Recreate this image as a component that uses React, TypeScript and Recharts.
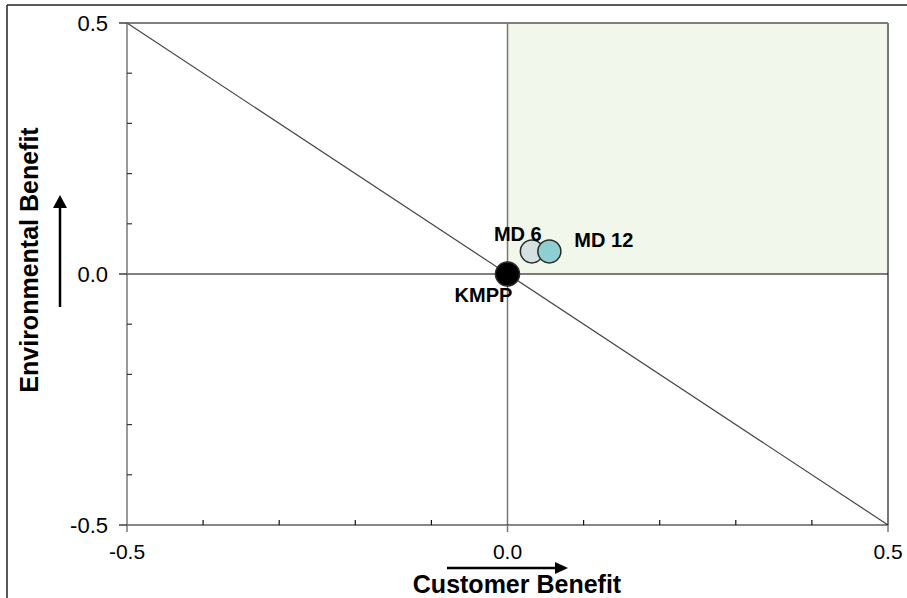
import { ScatterChart, Scatter, XAxis, YAxis, ReferenceArea, ReferenceLine } from 'recharts'

// one entry per bubble
const POINT_NAMES = ['KMPP', 'MD 6', 'MD 12']
const CUSTOMER_BENEFIT = [0, 0.032, 0.055]
const ENVIRONMENTAL_BENEFIT = [0, 0.045, 0.045]

const AXIS_TICKS = [-0.5, -0.4, -0.3, -0.2, -0.1, 0, 0.1, 0.2, 0.3, 0.4, 0.5]
const LABELLED_TICKS = [-0.5, 0, 0.5]
const DIAGONAL = [{ x: -0.5, y: 0.5 }, { x: 0.5, y: -0.5 }]

const POINT_STYLE: Record<string, { fill: string; r: number; dx: number; dy: number; anchor: 'start' | 'middle' | 'end' }> = {
  'KMPP': { fill: '#000000', r: 12, dx: -24, dy: 21, anchor: 'middle' },
  'MD 6': { fill: '#d3e2e1', r: 11.5, dx: -14, dy: -17, anchor: 'middle' },
  'MD 12': { fill: '#8ecfd1', r: 11.5, dx: 25, dy: -11, anchor: 'start' },
}

const FONT = 'Arial, "Liberation Sans", sans-serif'

const fmt = (v: number) => v.toFixed(1)
const isLabelled = (v: number) => LABELLED_TICKS.some((t) => Math.abs(t - v) < 1e-9)

function XTick({ x, y, payload }: any) {
  const major = isLabelled(payload.value)
  return (
    <g>
      {major ? (
        <line x1={x} x2={x} y1={y} y2={y + 7} stroke="#777" strokeWidth={1.5} />
      ) : (
        <line x1={x} x2={x} y1={y} y2={y - 5} stroke="#111" strokeWidth={1.2} />
      )}
      {major && (
        <text x={x} y={y + 26} textAnchor="middle" dominantBaseline="central" fontSize={21} fontFamily={FONT} fill="#000">
          {fmt(payload.value)}
        </text>
      )}
    </g>
  )
}

function YTick({ x, y, payload }: any) {
  const major = isLabelled(payload.value)
  return (
    <g>
      {major ? (
        <line x1={x - 8} x2={x} y1={y} y2={y} stroke="#111" strokeWidth={1.2} />
      ) : (
        <line x1={x} x2={x + 5} y1={y} y2={y} stroke="#333" strokeWidth={1.2} />
      )}
      {major && (
        <text x={x - 19} y={y} textAnchor="end" dominantBaseline="central" fontSize={22} fontFamily={FONT} fill="#000">
          {fmt(payload.value)}
        </text>
      )}
    </g>
  )
}

const renderPoint = (name: string) => (props: any) => {
  const s = POINT_STYLE[name]
  const { cx, cy } = props
  return (
    <g>
      <circle cx={cx} cy={cy} r={s.r} fill={s.fill} stroke="#2a2a2a" strokeWidth={1.5} />
      <text x={cx + s.dx} y={cy + s.dy} textAnchor={s.anchor} dominantBaseline="central" fontSize={20} fontWeight="bold" fontFamily={FONT} fill="#000">
        {name}
      </text>
    </g>
  )
}

export default function App() {
  return (
    <div style={{ position: 'absolute', left: 0, top: 0, width: 907, height: 598, background: '#fff' }}>
      <ScatterChart width={907} height={598} margin={{ top: 23, right: 19, bottom: 33, left: 67 }}>
        <ReferenceArea x1={0} x2={0.5} y1={0} y2={0.5} fill="#f1f7ea" fillOpacity={1} stroke="none" />
        <ReferenceLine y={0.5} stroke="#555" strokeWidth={1.5} />
        <ReferenceLine x={0.5} stroke="#777" strokeWidth={2} />
        <ReferenceLine x={0} stroke="#777" strokeWidth={1.5} />
        <ReferenceLine y={0} stroke="#000" strokeWidth={1.2} />
        <ReferenceLine segment={DIAGONAL} stroke="#444" strokeWidth={1.2} />
        <XAxis
          type="number"
          dataKey="x"
          domain={[-0.5, 0.5]}
          ticks={AXIS_TICKS}
          height={40}
          axisLine={{ stroke: '#111', strokeWidth: 1.2 }}
          tickLine={false}
          tickSize={0}
          tickMargin={0}
          tick={<XTick />}
          interval={0}
        />
        <YAxis
          type="number"
          dataKey="y"
          domain={[-0.5, 0.5]}
          ticks={AXIS_TICKS}
          width={60}
          axisLine={{ stroke: '#777', strokeWidth: 1.5 }}
          tickLine={false}
          tickSize={0}
          tickMargin={0}
          tick={<YTick />}
          interval={0}
        />
        {POINT_NAMES.map((name, i) => (
          <Scatter
            key={name}
            name={name}
            data={[{ x: CUSTOMER_BENEFIT[i], y: ENVIRONMENTAL_BENEFIT[i] }]}
            fill={POINT_STYLE[name].fill}
            shape={renderPoint(name)}
            isAnimationActive={false}
          />
        ))}
      </ScatterChart>
      <svg width={907} height={598} style={{ position: 'absolute', left: 0, top: 0, pointerEvents: 'none' }}>
        {/* page frame */}
        <line x1={7} x2={907} y1={5} y2={5} stroke="#222" strokeWidth={1.5} />
        <line x1={7} x2={7} y1={5} y2={598} stroke="#222" strokeWidth={1.5} />
        {/* x axis title + arrow */}
        <line x1={447} x2={556} y1={568} y2={568} stroke="#000" strokeWidth={2.5} />
        <polygon points="555,562 568,568 555,574" fill="#000" />
        <text x={517} y={593} textAnchor="middle" fontSize={25} fontWeight="bold" fontFamily={FONT} fill="#000">
          Customer Benefit
        </text>
        {/* y axis title + arrow */}
        <line x1={60} x2={60} y1={307} y2={207} stroke="#000" strokeWidth={2.5} />
        <polygon points="53,208 60,195 67,208" fill="#000" />
        <text x={38} y={260} transform="rotate(-90 38 260)" textAnchor="middle" fontSize={25} fontWeight="bold" fontFamily={FONT} fill="#000">
          Environmental Benefit
        </text>
      </svg>
    </div>
  )
}
